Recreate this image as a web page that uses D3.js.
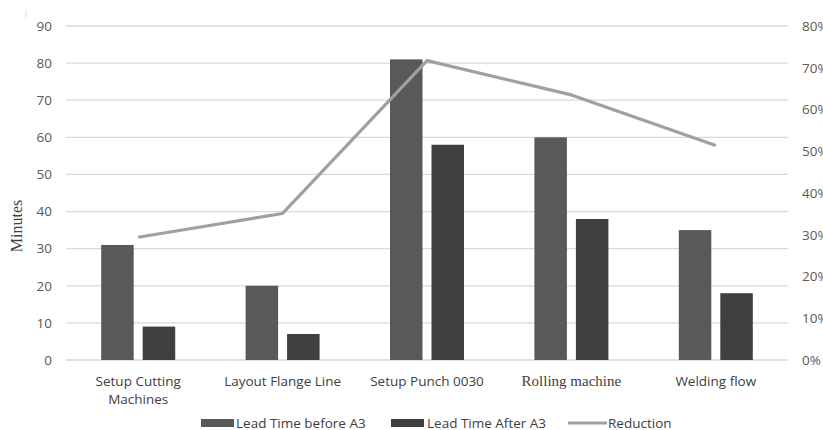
<!DOCTYPE html>
<html lang="en">
<head>
    <meta charset="UTF-8">
    <title>Lead Time</title>
    <style>
        body { margin: 0; background: #fff; }
    </style>
</head>
<body>
<script src="https://cdn.jsdelivr.net/npm/d3@7"></script>
<script>
    let categories = [["Setup Cutting", "Machines"], ["Layout Flange Line"], ["Setup Punch 0030"], ["Rolling machine"], ["Welding flow"]];
    let before = [31, 20, 81, 60, 35];
    let after = [9, 7, 58, 38, 18];
    let reduction = [0.294, 0.351, 0.717, 0.635, 0.514];
    let leftTicks = [0, 10, 20, 30, 40, 50, 60, 70, 80, 90];
    let rightTicks = [0, 0.1, 0.2, 0.3, 0.4, 0.5, 0.6, 0.7, 0.8];
    let legendNames = ["Lead Time before A3", "Lead Time After A3", "Reduction"];

    let width = 823;
    let height = 430;
    let plot = {left: 66, right: 788, top: 26, bottom: 360};
    let colBefore = "#595959", colAfter = "#3f3f3f", colLine = "#a0a0a0";
    let sans = "Open Sans, Noto Sans, sans-serif";
    let serif = "Liberation Serif, DejaVu Serif, serif";

    let svg = d3.select("body").append("svg")
        .attr("width", width)
        .attr("height", height)
        .attr("font-family", sans);

    let idx = d3.range(categories.length);
    let x = d3.scaleBand().domain(idx).range([plot.left, plot.right]);
    let y = d3.scaleLinear().domain([0, 90]).range([plot.bottom, plot.top]);
    let y2 = d3.scaleLinear().domain([0, 0.8]).range([plot.bottom, plot.top]);
    let barW = 32.5, gap = 9;

    // small mark at top left
    svg.append("line").attr("x1", 26).attr("x2", 26).attr("y1", 10).attr("y2", 18)
        .attr("stroke", "#e0e0e0").attr("stroke-width", 1);

    // grid
    svg.append("g").selectAll("line").data(leftTicks).enter().append("line")
        .attr("x1", plot.left).attr("x2", plot.right)
        .attr("y1", d => y(d)).attr("y2", d => y(d))
        .attr("stroke", "#d9d9d9").attr("stroke-width", 1.3);

    // left axis
    let la = svg.append("g").attr("transform", "translate(" + plot.left + ",0)")
        .call(d3.axisLeft(y).tickValues(leftTicks).tickSize(0).tickPadding(14));
    la.select(".domain").remove();
    la.attr("font-family", sans).attr("font-size", 13.5);
    la.selectAll("text").attr("fill", "#595959");

    // right axis
    let ra = svg.append("g").attr("transform", "translate(" + plot.right + ",0)")
        .call(d3.axisRight(y2).tickValues(rightTicks).tickSize(0).tickPadding(14).tickFormat(d3.format(".0%")));
    ra.select(".domain").remove();
    ra.attr("font-family", sans).attr("font-size", 13.5);
    ra.selectAll("text").attr("fill", "#595959");

    // bars
    svg.append("g").selectAll("rect").data(before).enter().append("rect")
        .attr("x", (d, i) => x(i) + x.bandwidth() / 2 - gap / 2 - barW)
        .attr("y", d => y(d))
        .attr("width", barW)
        .attr("height", d => y(0) - y(d))
        .attr("fill", colBefore);
    svg.append("g").selectAll("rect").data(after).enter().append("rect")
        .attr("x", (d, i) => x(i) + x.bandwidth() / 2 + gap / 2)
        .attr("y", d => y(d))
        .attr("width", barW)
        .attr("height", d => y(0) - y(d))
        .attr("fill", colAfter);

    // line
    let line = d3.line()
        .x((d, i) => x(i) + x.bandwidth() / 2)
        .y(d => y2(d));
    svg.append("path").datum(reduction)
        .attr("d", line)
        .attr("fill", "none")
        .attr("stroke", colLine)
        .attr("stroke-width", 3.2)
        .attr("stroke-linejoin", "round");

    // x labels
    let xl = svg.append("g").selectAll("text").data(categories).enter().append("text")
        .attr("x", (d, i) => x(i) + x.bandwidth() / 2)
        .attr("y", 386)
        .attr("text-anchor", "middle")
        .attr("font-size", (d, i) => i === 3 ? 15 : 13.5)
        .attr("fill", "#404040")
        .attr("font-family", (d, i) => i === 3 ? serif : sans);
    xl.selectAll("tspan").data(d => d).enter().append("tspan")
        .attr("x", function () { return d3.select(this.parentNode).attr("x"); })
        .attr("dy", (d, i) => i === 0 ? 0 : 18)
        .text(d => d);

    // y title
    svg.append("text")
        .attr("transform", "translate(22,226) rotate(-90)")
        .attr("text-anchor", "middle")
        .attr("font-family", serif)
        .attr("font-size", 16)
        .attr("fill", "#404040")
        .text("Minutes");

    // legend
    let leg = svg.append("g");
    let legX = [201, 391, 568];
    [colBefore, colAfter].forEach((c, i) => {
        leg.append("rect").attr("x", legX[i]).attr("y", 419).attr("width", 33).attr("height", 8).attr("fill", c);
    });
    leg.append("line").attr("x1", legX[2]).attr("x2", legX[2] + 39).attr("y1", 423).attr("y2", 423)
        .attr("stroke", colLine).attr("stroke-width", 3.2);
    let legTextX = [236, 427, 608];
    leg.selectAll("text").data(legendNames).enter().append("text")
        .attr("x", (d, i) => legTextX[i])
        .attr("y", 428)
        .attr("font-size", 13.5)
        .attr("fill", "#404040")
        .text(d => d);
</script>
</body>
</html>
